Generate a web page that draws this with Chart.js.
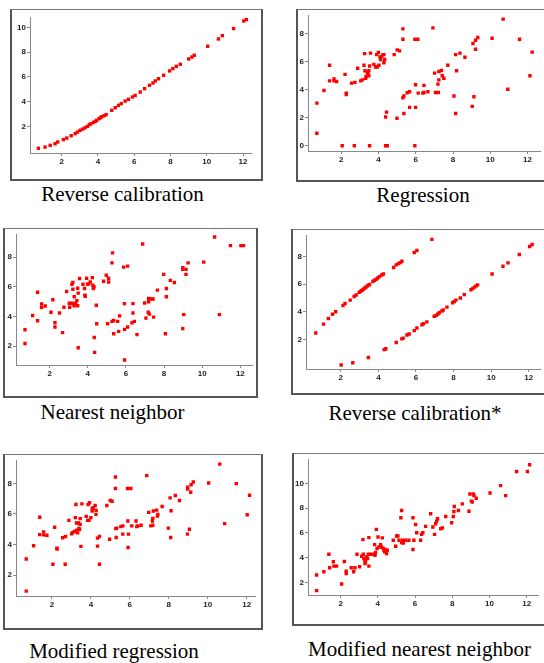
<!DOCTYPE html>
<html>
<head>
<meta charset="utf-8">
<script src="https://cdn.jsdelivr.net/npm/chart.js@4/dist/chart.umd.min.js"></script>
<style>
  html, body { margin:0; padding:0; background:#fff; }
  body { width:544px; height:663px; position:relative; overflow:hidden; }
  .frame { position:absolute; border-top:1px solid #777; border-left:2px solid #555; border-right:2px solid #555; border-bottom:2px solid #555; box-sizing:border-box; }
  .frame.open { border-right:none; }
  canvas { position:absolute; }
  .cap { position:absolute; width:400px; text-align:center; font-family:"Liberation Serif","Times New Roman",serif; font-size:21px; line-height:21px; color:#000; white-space:nowrap; }
</style>
</head>
<body>
<script>
// tick labels
const xTicks = [2,4,6,8,10,12];
const yTicks10 = [2,4,6,8,10];
const yTicks8 = [0,2,4,6,8];
const yTicks8b = [2,4,6,8];

// Reverse calibration
const revCalX = [0.71,1.08,1.36,1.63,1.78,2.09,2.28,2.52,2.74,2.87,3.01,3.16,3.29,3.42,3.53,3.60,3.75,3.85,3.93,4.06,4.14,4.21,4.34,4.45,4.76,4.95,5.13,5.28,5.50,5.68,5.90,6.05,6.33,6.57,6.84,7.03,7.16,7.34,7.62,7.95,8.13,8.32,8.54,9.00,9.18,9.31,10.05,10.64,10.86,11.48,12.04,12.18];
const revCalY = [0.22,0.32,0.46,0.59,0.73,0.92,1.05,1.24,1.41,1.54,1.68,1.78,1.89,2.00,2.14,2.20,2.32,2.40,2.49,2.62,2.70,2.78,2.86,2.95,3.30,3.51,3.70,3.84,4.05,4.19,4.38,4.51,4.78,5.05,5.32,5.51,5.68,5.86,6.14,6.49,6.68,6.86,7.03,7.46,7.62,7.76,8.49,9.08,9.35,9.92,10.54,10.65];

// Regression
const regX = [0.69,0.69,1.07,1.37,1.37,1.61,1.61,1.75,2.20,2.27,2.27,2.55,2.73,2.88,3.04,3.13,3.22,3.25,3.27,3.31,3.34,3.40,3.43,3.48,3.48,3.52,3.57,3.75,3.84,3.90,3.93,3.99,4.02,4.08,4.11,4.16,4.24,4.29,4.33,4.29,4.38,4.43,4.38,4.47,3.52,2.70,2.05,4.84,5.00,5.13,5.31,5.31,5.31,5.36,5.36,4.99,5.54,5.67,5.67,5.95,6.11,5.99,5.99,5.95,6.13,6.38,6.44,6.44,6.65,6.92,7.01,7.06,7.21,7.19,7.24,7.24,7.38,7.42,7.51,7.72,8.05,8.14,8.14,8.19,8.37,8.64,9.03,9.07,9.12,9.21,9.21,9.33,10.10,10.69,10.94,11.57,12.13,12.25];
const regY = [3.04,0.90,3.94,5.74,4.63,4.77,4.63,4.59,5.09,3.76,3.66,4.47,4.52,5.53,4.63,4.70,5.74,6.57,5.35,4.82,4.95,5.23,5.12,5.35,5.00,5.69,6.61,5.81,5.62,6.50,5.62,6.66,5.74,6.34,6.15,6.38,6.50,5.92,6.15,6.50,2.05,2.40,0,0,0,0,0,6.50,6.84,6.77,8.34,7.60,3.43,3.55,2.30,1.96,3.78,3.85,2.74,7.60,7.60,4.35,2.74,0,3.76,3.76,4.31,3.80,3.85,8.41,5.18,3.80,3.80,4.40,4.70,5.30,5.37,5.00,4.82,5.74,3.55,6.50,2.30,5.35,6.61,6.31,2.81,7.30,3.50,7.53,6.89,7.72,7.67,9.03,4.03,7.60,5.00,6.68];

// Nearest neighbor
const nnX = [0.71,0.71,1.11,1.37,1.37,1.58,1.58,1.77,2.07,2.17,2.28,2.28,2.52,2.68,2.75,2.89,3.03,3.05,3.17,3.22,3.17,3.22,3.26,3.29,3.29,3.36,3.43,3.47,3.47,3.50,3.50,3.57,3.75,3.83,3.85,3.87,3.94,3.99,4.06,4.13,4.24,4.27,4.29,4.33,4.34,4.36,4.45,4.47,4.83,4.97,5.04,5.09,5.09,5.27,5.30,5.27,5.36,5.36,5.57,5.62,5.67,5.88,5.92,5.93,5.93,6.09,6.09,6.32,6.37,6.37,6.44,6.58,6.88,6.98,7.05,7.17,7.19,7.19,7.23,7.31,7.42,7.45,7.65,7.98,8.07,8.12,8.12,8.33,8.54,8.98,8.98,8.98,9.03,9.15,9.15,9.26,10.08,10.65,10.90,11.48,12.03,12.17];
const nnY = [3.11,2.18,4.07,5.64,3.71,4.84,4.60,4.71,4.29,5.13,3.58,3.29,4.24,2.91,4.62,5.69,4.89,4.62,6.18,6.29,4.89,5.84,4.84,5.33,4.73,4.89,5.07,5.91,4.73,5.58,1.89,6.56,6.18,5.89,5.44,5.36,6.58,6.18,6.22,6.33,6.62,6.11,5.89,6.00,2.58,1.58,4.76,3.51,6.38,6.78,3.51,6.58,6.33,7.62,8.29,3.67,3.73,2.84,3.67,3.00,4.04,7.33,4.87,3.13,1.07,7.40,3.29,3.58,4.87,4.24,3.67,2.78,8.89,4.91,3.89,4.29,5.22,5.00,4.16,5.18,5.18,3.96,5.78,6.84,2.84,5.89,5.33,6.44,6.29,7.29,7.18,3.18,4.13,7.18,6.84,7.62,7.67,9.36,4.13,8.78,8.78,8.78];

// Reverse calibration*
const revCal2X = [0.67,1.08,1.34,1.56,1.73,2.12,2.23,2.50,2.71,2.82,2.98,3.05,3.12,3.19,3.26,3.33,3.40,3.47,3.53,3.71,3.79,3.88,3.97,4.06,4.18,4.27,4.81,4.95,5.07,5.16,5.25,5.91,6.05,6.85,
  2.02,2.64,3.47,4.31,4.40,4.95,5.25,5.32,5.52,5.64,5.91,6.05,6.32,6.40,6.58,6.97,7.08,7.17,7.24,7.38,7.45,7.65,7.95,8.04,8.13,8.36,8.57,8.93,9.02,9.12,9.21,9.28,10.05,10.63,10.90,11.50,12.05,12.18];
const revCal2Y = [2.49,3.13,3.53,3.84,4.02,4.47,4.61,4.85,5.11,5.22,5.41,5.48,5.55,5.62,5.72,5.76,5.86,5.93,5.98,6.19,6.28,6.35,6.45,6.54,6.66,6.73,7.20,7.39,7.48,7.55,7.65,8.28,8.42,9.22,
  0.19,0.35,0.73,1.29,1.36,1.81,2.07,2.12,2.35,2.42,2.66,2.85,3.08,3.15,3.29,3.69,3.76,3.86,3.95,4.07,4.14,4.35,4.66,4.75,4.85,5.01,5.25,5.60,5.69,5.79,5.88,5.95,6.73,7.29,7.53,8.14,8.71,8.85];

// Modified regression
const modRegX = [0.68,0.68,1.06,1.37,1.37,1.57,1.57,1.74,2.14,2.26,2.26,2.05,2.55,2.70,2.68,2.87,3.01,3.06,3.15,3.20,3.23,3.26,3.27,3.32,3.37,3.38,3.45,3.42,3.45,3.49,3.54,3.76,3.83,3.86,3.90,3.93,4.00,4.07,4.07,4.12,4.22,4.26,4.27,4.34,4.34,4.44,4.44,4.82,4.96,4.99,5.09,5.26,5.26,5.28,5.30,5.33,5.54,5.64,5.64,5.88,5.90,5.91,5.93,6.05,6.10,6.32,6.36,6.41,6.58,6.87,6.97,7.08,7.16,7.18,7.18,7.21,7.38,7.42,7.44,7.66,7.98,8.07,8.10,8.12,8.34,8.55,8.96,8.97,8.97,9.06,9.13,9.15,9.26,10.05,10.62,10.87,11.47,12.03,12.15];
const modRegY = [3.06,0.96,3.92,5.78,4.65,4.83,4.63,4.61,5.13,3.77,3.71,2.71,4.44,4.53,2.71,5.58,4.70,4.78,4.85,5.76,6.62,5.41,4.94,4.76,5.41,5.06,5.32,5.00,5.69,3.88,6.66,5.84,5.58,6.62,5.58,6.73,5.76,6.34,6.19,6.40,6.55,5.97,6.23,3.90,4.42,4.53,2.71,6.55,4.35,6.88,6.83,8.41,7.66,5.04,4.46,5.07,5.17,5.22,4.68,7.66,5.54,3.81,4.68,7.66,5.22,5.54,5.17,5.22,5.26,8.50,6.10,5.22,5.54,5.71,5.26,6.19,6.25,5.86,5.97,6.49,5.07,7.05,4.46,6.21,7.20,6.88,4.68,7.74,7.63,5.00,7.42,7.91,8.09,8.02,9.25,5.37,7.98,5.95,7.22];

// Modified nearest neighbor
const modNnX = [0.71,0.71,1.10,1.37,1.41,1.61,1.64,1.78,2.05,2.20,2.30,2.30,2.57,2.70,2.77,2.88,3.02,3.13,3.20,3.22,3.25,3.31,3.31,3.34,3.40,3.45,3.49,3.52,3.52,3.63,3.79,3.83,3.85,3.88,3.92,3.96,4.01,4.06,4.15,4.20,4.24,4.29,4.33,4.37,4.42,4.47,4.51,4.83,4.96,5.01,5.08,5.14,5.24,5.28,5.28,5.32,5.37,5.49,5.67,5.89,5.89,5.94,6.03,6.09,6.30,6.35,6.42,6.57,6.84,6.96,7.05,7.11,7.16,7.21,7.38,7.47,7.65,7.97,8.06,8.09,8.11,8.33,8.54,8.90,8.95,9.03,9.08,9.13,9.17,9.29,10.03,10.60,10.87,11.46,12.04,12.16];
const modNnY = [2.59,1.33,2.86,4.27,3.18,3.66,3.31,3.31,1.87,3.69,2.91,2.72,3.18,2.86,3.18,4.27,3.26,4.11,5.45,4.27,3.93,3.79,3.53,3.66,4.06,3.93,4.27,3.31,5.61,4.27,4.27,5.05,4.19,4.41,6.28,4.73,5.67,4.86,5.05,4.86,5.59,4.73,4.60,4.46,4.65,4.33,4.60,5.40,4.92,5.75,5.75,5.40,7.22,7.81,5.21,5.40,5.18,5.40,5.40,4.65,7.22,5.40,6.68,6.01,5.40,5.88,6.01,6.52,7.54,6.47,5.88,6.74,6.95,7.14,6.33,6.39,7.32,6.82,7.32,7.73,8.13,7.81,8.34,7.75,9.14,8.56,8.48,9.14,9.01,8.80,9.22,9.81,9.01,10.96,10.96,11.50];

// page geometry of each panel: frame box, plot box (axis lines), value ranges
const panels = [
  { title:'Reverse calibration', xs:revCalX, ys:revCalY, yTicks:yTicks10,
    frame:{l:10,t:9,r:263,b:181}, plot:{l:30,t:17,r:251,b:153}, xr:[0.249,12.44], yr:[-0.16,10.86], cap:{cx:122.5,top:184} },
  { title:'Regression', xs:regX, ys:regY, yTicks:yTicks8,
    frame:{l:296,t:9,r:null,b:182}, plot:{l:308,t:12,r:540,b:151}, xr:[0.213,12.67], yr:[-0.37,9.27], cap:{cx:423,top:184.5} },
  { title:'Nearest neighbor', xs:nnX, ys:nnY, yTicks:yTicks8b,
    frame:{l:3,t:228,r:258,b:398}, plot:{l:16,t:233,r:252,b:365}, xr:[0.238,12.61], yr:[0.73,9.51], cap:{cx:112.5,top:401.5} },
  { title:'Reverse calibration*', xs:revCal2X, ys:revCal2Y, yTicks:yTicks8b,
    frame:{l:291,t:229,r:null,b:395}, plot:{l:306,t:233,r:540,b:369}, xr:[0.15,12.6], yr:[-0.10,9.48], cap:{cx:415,top:402.5} },
  { title:'Modified regression', xs:modRegX, ys:modRegY, yTicks:yTicks8b,
    frame:{l:3,t:454,r:263,b:630}, plot:{l:16,t:459,r:255,b:596}, xr:[0.154,12.43], yr:[0.64,9.47], cap:{cx:114,top:640.5} },
  { title:'Modified nearest neighbor', xs:modNnX, ys:modNnY, yTicks:yTicks10,
    frame:{l:292,t:453,r:null,b:626}, plot:{l:308,t:459,r:538,b:595}, xr:[0.247,12.61], yr:[0.98,11.9], cap:{cx:419.5,top:639} }
];

const tickFont = { family:'"Liberation Sans", Arial, sans-serif', size:8, weight:'bold' };

panels.forEach(p => {
  const f = p.frame;
  const frameRight = f.r === null ? 560 : f.r;
  const box = document.createElement('div');
  box.className = 'frame' + (f.r === null ? ' open' : '');
  Object.assign(box.style, { left:f.l+'px', top:f.t+'px', width:(frameRight-f.l)+'px', height:(f.b-f.t)+'px' });
  document.body.appendChild(box);

  const cl = f.l + 2, ct = f.t + 1;
  const cw = (f.r === null ? 544 : f.r - 2) - cl;
  const ch = f.b - 2 - ct;
  const cv = document.createElement('canvas');
  cv.width = cw; cv.height = ch;
  Object.assign(cv.style, { left:cl+'px', top:ct+'px', width:cw+'px', height:ch+'px' });
  document.body.appendChild(cv);

  const cap = document.createElement('div');
  cap.className = 'cap';
  cap.textContent = p.title;
  cap.style.left = (p.cap.cx - 200) + 'px';
  cap.style.top = p.cap.top + 'px';
  document.body.appendChild(cap);

  const yW = p.plot.l - cl;
  const xH = ct + ch - p.plot.b;
  const axis = (min, max, ticks, fit) => ({
    type:'linear', min, max,
    afterBuildTicks: s => { s.ticks = ticks.map(v => ({ value:v })); },
    afterFit: fit,
    grid:{ display:true, drawOnChartArea:false, drawTicks:true, tickLength:3, tickColor:'#888', color:'#888' },
    border:{ display:true, color:'#888', width:1 },
    ticks:{ font:tickFont, color:'#222', padding:1, autoSkip:false, maxRotation:0, callback:v => v }
  });

  new Chart(cv, {
    type:'scatter',
    data:{ datasets:[{
      data: p.xs.map((x, i) => ({ x, y:p.ys[i] })),
      backgroundColor:'#ff0000', borderWidth:0,
      pointStyle:'rect', pointRadius:2.4, pointHoverRadius:2.4
    }]},
    options:{
      responsive:false, animation:false, devicePixelRatio:1,
      layout:{ padding:{ left:0, bottom:0, top:p.plot.t - ct, right:cl + cw - p.plot.r } },
      plugins:{ legend:{ display:false }, tooltip:{ enabled:false } },
      scales:{
        x: axis(p.xr[0], p.xr[1], xTicks, s => { s.height = xH; }),
        y: axis(p.yr[0], p.yr[1], p.yTicks, s => { s.width = yW; })
      }
    }
  });
});
</script>
</body>
</html>
